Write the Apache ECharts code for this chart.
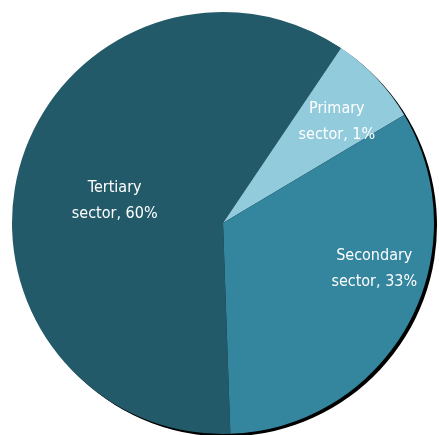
<!DOCTYPE html>
<html>
<head>
<meta charset="utf-8">
<script src="https://cdn.jsdelivr.net/npm/echarts@6/dist/echarts.min.js"></script>
<style>
html,body{margin:0;padding:0;background:#fff;}
#c{width:439px;height:435px;}
</style>
</head>
<body>
<div id="c"></div>
<script>
var categories = ['Tertiary sector', 'Primary sector', 'Secondary sector'];
var values = [60, 7, 33];
var labelTexts = ['Tertiary\nsector, 60%', 'Primary\nsector, 1%', 'Secondary\nsector, 33%'];
var colors = ['#235a69', '#92cbdc', '#33869e'];
var labelOffsets = [[-4, 8], [35, -27], [56, -6]];

var chart = echarts.init(document.getElementById('c'), null, {renderer: 'canvas'});
var data = categories.map(function (name, i) {
  return {
    name: name,
    value: values[i],
    itemStyle: {color: colors[i]},
    label: {formatter: labelTexts[i], offset: labelOffsets[i]}
  };
});
chart.setOption({
  animation: false,
  series: [
    {
      type: 'pie',
      silent: true,
      center: [226, 225.5],
      radius: 211,
      startAngle: -88,
      data: [{value: 1, itemStyle: {color: '#000'}}],
      label: {show: false},
      labelLine: {show: false}
    },
    {
      type: 'pie',
      center: [223, 223],
      radius: 211,
      startAngle: -88,
      clockwise: true,
      itemStyle: {borderWidth: 0},
      label: {
        show: true,
        position: 'inside',
        color: '#ffffff',
        fontFamily: '"DejaVu Sans Condensed", "DejaVu Sans", sans-serif',
        fontSize: 16,
        fontWeight: 500,
        lineHeight: 26,
        align: 'center'
      },
      labelLine: {show: false},
      data: data
    }
  ]
});
</script>
</body>
</html>
